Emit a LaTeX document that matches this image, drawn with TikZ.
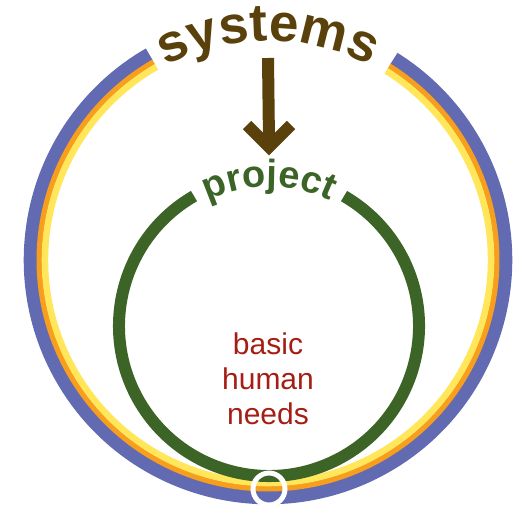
\documentclass[tikz,border=0pt]{standalone}
\usepackage{fontspec}
\setmainfont{Liberation Sans}
\usetikzlibrary{decorations.text,calc}
\definecolor{ringblue}{RGB}{98,106,178}
\definecolor{ringorange}{RGB}{247,158,30}
\definecolor{ringyellow}{RGB}{255,230,90}
\definecolor{projgreen}{RGB}{60,100,38}
\definecolor{sysbrown}{RGB}{90,65,12}
\definecolor{needred}{RGB}{165,30,20}
\newcommand\mysysfont{\fontsize{53}{53}\selectfont\bfseries}
\newcommand\myprojfont{\fontsize{38}{38}\selectfont\bfseries}
\begin{document}
\begin{tikzpicture}[x=1pt,y=1pt,
  ringband/.style={line width=#1},
  arrowline/.style={draw=sysbrown,line width=12pt,miter limit=10}]
\useasboundingbox (0,0) rectangle (513,506);
\coordinate (oc) at (268,246);
\coordinate (ic) at (269,180);
% outer ring
\draw[ringband=13.5pt,ringblue] (oc) ++(120:237.5) arc[start angle=120,end angle=418,radius=237.5];
\draw[ringband=5.5pt,ringorange] (oc) ++(120:228.7) arc[start angle=120,end angle=418,radius=228.7];
\draw[ringband=6.5pt,ringyellow] (oc) ++(120:223) arc[start angle=120,end angle=418,radius=223];
% inner circle
\draw[line width=12pt,projgreen] (ic) ++(120:150) arc[start angle=120,end angle=420,radius=150];
% labels along arcs
\path[decorate,decoration={text along path,text={|\mysysfont|systems},text align=center,text color=sysbrown}]
  (oc) ++(150:219) arc[start angle=150,end angle=30,radius=219];
\path[decorate,decoration={text along path,text={|\myprojfont|project},text align=center,text color=projgreen}]
  (ic) ++(150:139) arc[start angle=150,end angle=30,radius=139];
% arrow
\coordinate (atop) at (268,448);
\coordinate (ajoint) at (269,359);
\coordinate (ashaft) at (269,365);
\coordinate (aleft) at (247,381);
\coordinate (aright) at (291,381);
\draw[arrowline] (atop) -- (ashaft);
\draw[arrowline] (aleft) -- (ajoint) -- (aright);
% small white circle
\coordinate (sc) at (269,17);
\draw[white,line width=5pt] (sc) circle[radius=16];
% centre text
\node[text=needred,align=center,font=\fontsize{30}{35}\selectfont] (needs) at (268,127) {basic\\human\\needs};
\end{tikzpicture}
\end{document}
